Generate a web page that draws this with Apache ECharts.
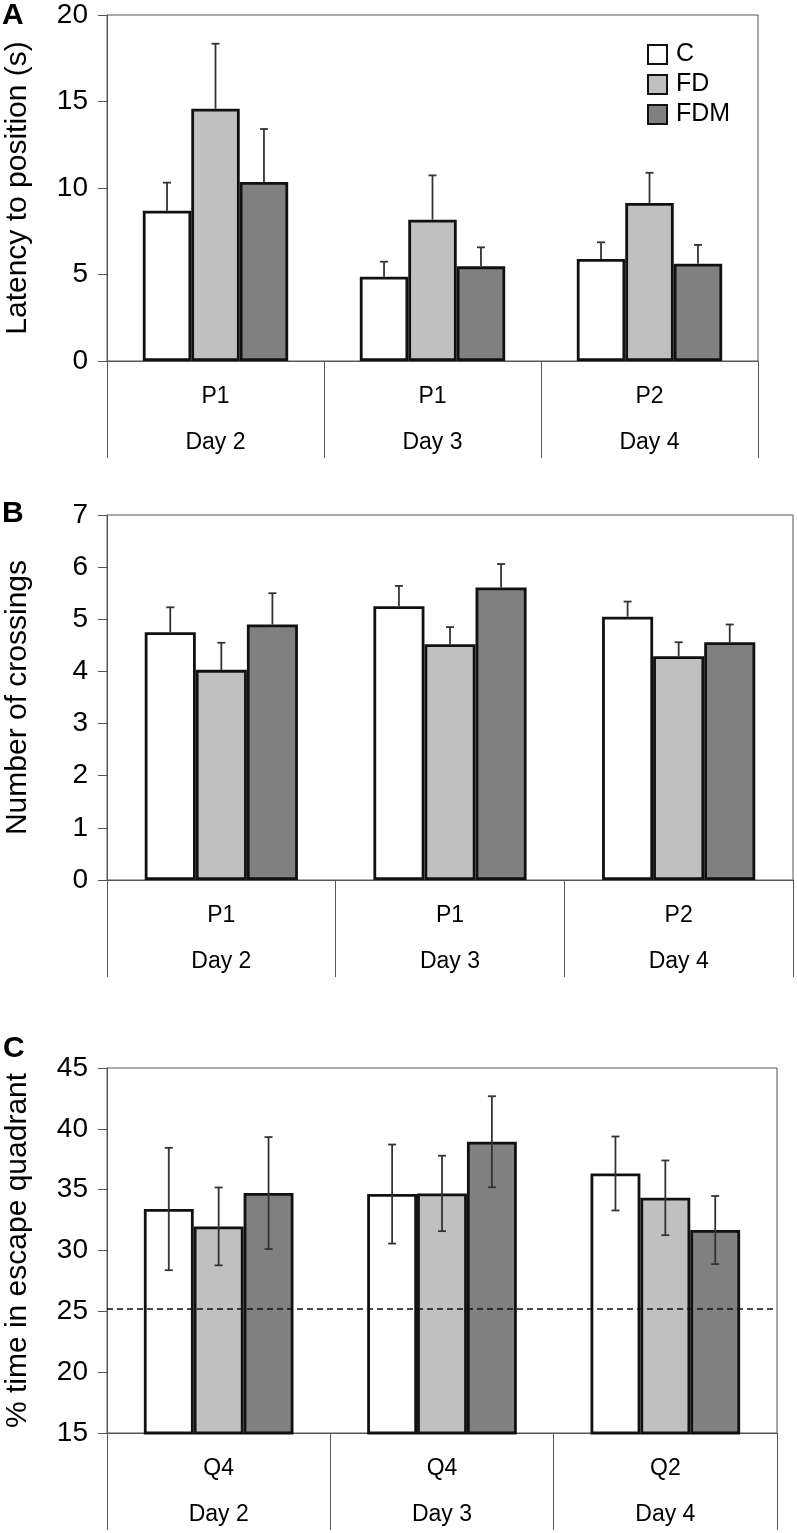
<!DOCTYPE html>
<html>
<head>
<meta charset="utf-8">
<script src="https://cdn.jsdelivr.net/npm/echarts@6/dist/echarts.min.js"></script>
<style>
html,body{margin:0;padding:0;background:#fff;}
#chart{width:797px;height:1533px;}
</style>
</head>
<body>
<div id="chart"></div>
<script>
// ---- data ----
const days = ['Day 2', 'Day 3', 'Day 4'];
const subA = ['P1', 'P1', 'P2'];
const subB = ['P1', 'P1', 'P2'];
const subC = ['Q4', 'Q4', 'Q2'];
const groups = ['C', 'FD', 'FDM'];

// Panel A: latency to position (s), mean and SEM (upward)
const A_C = [8.69, 4.87, 5.90];
const A_C_err = [1.62, 0.87, 0.96];
const A_FD = [14.58, 8.17, 9.13];
const A_FD_err = [3.76, 2.56, 1.75];
const A_FDM = [10.35, 5.47, 5.62];
const A_FDM_err = [3.06, 1.10, 1.09];

// Panel B: number of crossings
const B_C = [4.75, 5.25, 5.05];
const B_C_err = [0.48, 0.39, 0.29];
const B_FD = [4.03, 4.52, 4.29];
const B_FD_err = [0.52, 0.33, 0.27];
const B_FDM = [4.90, 5.61, 4.56];
const B_FDM_err = [0.60, 0.45, 0.34];

// Panel C: % time in escape quadrant (two-sided error)
const C_C = [33.41, 34.64, 36.33];
const C_C_err = [5.03, 4.07, 3.04];
const C_FD = [31.98, 34.69, 34.33];
const C_FD_err = [3.20, 3.10, 3.07];
const C_FDM = [34.72, 38.94, 31.68];
const C_FDM_err = [4.60, 3.74, 2.80];
const chanceLevel = 25.25;

const yTicksA = {min: 0, max: 20, interval: 5};
const yTicksB = {min: 0, max: 7, interval: 1};
const yTicksC = {min: 15, max: 45, interval: 5};

// ---- styles ----
const FONT = "'Liberation Sans', Arial, sans-serif";
const fills = ['#ffffff', '#c0c0c0', '#808080'];
const frameColor = '#555555';
const CAT_GAP = 0.33;

const chart = echarts.init(document.getElementById('chart'), null, {renderer: 'canvas'});

const grids = [
  {left: 107, right: 39, top: 15, height: 346},
  {left: 107, right: 4, top: 515, height: 365},
  {left: 107, right: 20, top: 1068, height: 365}
];

function xAxisFor(i, subs) {
  return {
    type: 'category', gridIndex: i, data: days,
    axisLine: {show: true, lineStyle: {color: frameColor, width: 1}},
    axisTick: {show: true, interval: 0, length: 97, alignWithLabel: false, lineStyle: {color: frameColor, width: 1}},
    axisLabel: {
      interval: 0, margin: 13,
      formatter: function (v, idx) { return subs[idx] + '\n' + v; },
      fontFamily: FONT, fontSize: 23, color: '#000', lineHeight: 46
    },
    splitLine: {show: false}
  };
}
function yAxisFor(i, t, title) {
  return {
    type: 'value', gridIndex: i, min: t.min, max: t.max, interval: t.interval,
    name: title, nameLocation: 'middle', nameGap: 74,
    nameTextStyle: {fontFamily: FONT, fontSize: 30, color: '#000'},
    axisLine: {show: true, lineStyle: {color: frameColor, width: 1}},
    axisTick: {show: true, inside: false, length: 9, lineStyle: {color: frameColor, width: 1}},
    axisLabel: {fontFamily: FONT, fontSize: 28, color: '#000', margin: 19},
    splitLine: {show: false}
  };
}

function barSeries(gi, name, data, k) {
  return {
    type: 'bar', name: name, xAxisIndex: gi, yAxisIndex: gi, data: data,
    barGap: '0%', barCategoryGap: (CAT_GAP * 100) + '%',
    itemStyle: {color: fills[k], borderColor: '#111', borderWidth: 2.8},
    z: 2
  };
}

function errSeries(gi, means, errs, k, twoSided) {
  const d = means.map(function (m, i) {
    return [i, twoSided ? m - errs[i] : m, m + errs[i]];
  });
  return {
    type: 'custom', xAxisIndex: gi, yAxisIndex: gi, data: d,
    encode: {x: 0, y: [1, 2]}, z: 5, silent: true,
    renderItem: function (params, api) {
      const cat = api.value(0), lo = api.value(1), hi = api.value(2);
      const band = api.size([1, 0])[0];
      const bw = band * (1 - CAT_GAP) / 3;
      const top = api.coord([cat, hi]);
      const bot = api.coord([cat, lo]);
      const x = top[0] + (k - 1) * bw;
      const st = {stroke: '#333', lineWidth: 1.8};
      const ch = [
        {type: 'line', shape: {x1: x, y1: bot[1], x2: x, y2: top[1]}, style: st},
        {type: 'line', shape: {x1: x - 4, y1: top[1], x2: x + 4, y2: top[1]}, style: st}
      ];
      if (twoSided) ch.push({type: 'line', shape: {x1: x - 4, y1: bot[1], x2: x + 4, y2: bot[1]}, style: st});
      return {type: 'group', children: ch};
    }
  };
}

const panels = [
  {vals: [A_C, A_FD, A_FDM], errs: [A_C_err, A_FD_err, A_FDM_err], two: false},
  {vals: [B_C, B_FD, B_FDM], errs: [B_C_err, B_FD_err, B_FDM_err], two: false},
  {vals: [C_C, C_FD, C_FDM], errs: [C_C_err, C_FD_err, C_FDM_err], two: true}
];

const series = [];
panels.forEach(function (p, gi) {
  for (let k = 0; k < 3; k++) {
    const s = barSeries(gi, groups[k], p.vals[k], k);
    if (gi === 2 && k === 0) {
      s.markLine = {
        silent: true, symbol: ['none', 'none'], label: {show: false},
        lineStyle: {color: '#111', type: [6, 4], width: 1.5},
        data: [{yAxis: chanceLevel}], z: 4
      };
    }
    series.push(s);
  }
  for (let k = 0; k < 3; k++) series.push(errSeries(gi, p.vals[k], p.errs[k], k, p.two));
});

const option = {
  animation: false,
  backgroundColor: '#ffffff',
  grid: grids.map(function (g) {
    return Object.assign({show: true, borderColor: frameColor, borderWidth: 1, backgroundColor: 'transparent',
      containLabel: false, outerBoundsMode: 'none'}, g);
  }),
  xAxis: [xAxisFor(0, subA), xAxisFor(1, subB), xAxisFor(2, subC)],
  yAxis: [
    yAxisFor(0, yTicksA, 'Latency to position (s)'),
    yAxisFor(1, yTicksB, 'Number of crossings'),
    yAxisFor(2, yTicksC, '% time in escape quadrant')
  ],
  legend: {
    data: groups, orient: 'vertical', left: 647, top: 42, padding: 0,
    itemWidth: 19, itemHeight: 19, itemGap: 5, icon: 'rect',
    textStyle: {fontFamily: FONT, fontSize: 25, color: '#000', padding: [0, 0, 0, 4]},
    selectedMode: false
  },
  graphic: [
    {type: 'text', left: 2, top: 1, style: {text: 'A', fontFamily: FONT, fontSize: 30, fontWeight: 'bold', fill: '#000'}},
    {type: 'text', left: 2, top: 499, style: {text: 'B', fontFamily: FONT, fontSize: 30, fontWeight: 'bold', fill: '#000'}},
    {type: 'text', left: 3, top: 1034, style: {text: 'C', fontFamily: FONT, fontSize: 30, fontWeight: 'bold', fill: '#000'}}
  ],
  series: series
};
chart.setOption(option);
</script>
</body>
</html>
